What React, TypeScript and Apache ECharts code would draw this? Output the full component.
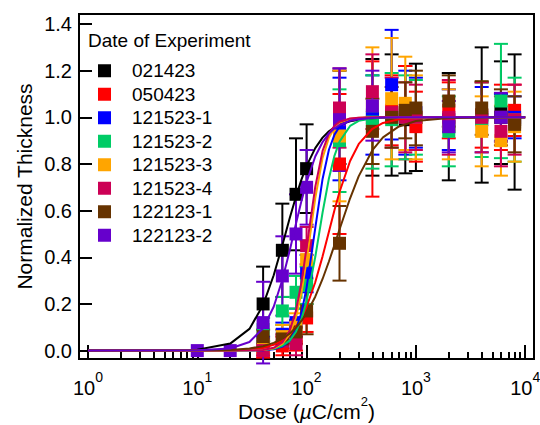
import React, { useEffect, useRef } from 'react';
import * as echarts from 'echarts';

const FONT = '"Liberation Sans", Arial, Helvetica, sans-serif';

// ---- names / ticks ----
const experimentNames = ['021423', '050423', '121523-1', '121523-2', '121523-3', '121523-4', '122123-1', '122123-2'];
const xMajorTicks = [1, 10, 100, 1000, 10000];
const xMinorTicks = [2, 3, 4, 5, 6, 7, 8, 9, 20, 30, 40, 50, 60, 70, 80, 90, 200, 300, 400, 500, 600, 700, 800, 900, 2000, 3000, 4000, 5000, 6000, 7000, 8000, 9000];
const yTicks = [0, 0.2, 0.4, 0.6, 0.8, 1.0, 1.2, 1.4];

// ---- measured points (dose, normalized thickness, error) ----
const dose021423 = [40, 60, 80, 100, 200, 400, 600, 800, 1000, 2000, 4000, 6000, 8000];
const thick021423 = [0.20, 0.43, 0.67, 0.78, 1.00, 1.00, 1.01, 0.99, 1.00, 0.96, 1.01, 1.02, 0.98];
const err021423 = [0.16, 0.20, 0.24, 0.19, 0.20, 0.25, 0.26, 0.23, 0.23, 0.23, 0.29, 0.22, 0.29];

const dose050423 = [40, 60, 80, 100, 200, 400, 600, 800, 1000, 2000, 4000, 6000, 8000];
const thick050423 = [0.00, 0.02, 0.05, 0.14, 0.80, 0.95, 1.03, 1.02, 0.96, 1.03, 1.01, 1.00, 1.03];
const err050423 = [0.03, 0.04, 0.05, 0.06, 0.30, 0.29, 0.15, 0.20, 0.15, 0.12, 0.14, 0.14, 0.11];

const dose121523_1 = [40, 60, 80, 100, 200, 400, 600, 800, 1000, 2000, 4000, 6000, 8000];
const thick121523_1 = [0.03, 0.07, 0.12, 0.33, 0.95, 1.01, 1.14, 1.02, 1.02, 0.99, 0.99, 1.00, 1.00];
const err121523_1 = [0.03, 0.05, 0.06, 0.08, 0.22, 0.17, 0.235, 0.18, 0.15, 0.13, 0.14, 0.10, 0.09];

const dose121523_2 = [40, 60, 80, 100, 200, 400, 600, 800, 1000, 2000, 4000, 6000, 8000];
const thick121523_2 = [0.09, 0.17, 0.25, 0.28, 0.90, 0.98, 0.99, 1.00, 1.00, 0.94, 0.99, 1.07, 0.99];
const err121523_2 = [0.05, 0.06, 0.07, 0.08, 0.22, 0.20, 0.20, 0.18, 0.16, 0.15, 0.16, 0.245, 0.18];

const dose121523_3 = [40, 60, 80, 100, 200, 400, 600, 800, 1000, 2000, 4000, 6000, 8000];
const thick121523_3 = [0.02, 0.06, 0.10, 0.39, 0.92, 1.05, 1.08, 1.06, 1.00, 0.97, 0.94, 0.90, 0.96];
const err121523_3 = [0.03, 0.05, 0.06, 0.08, 0.28, 0.25, 0.26, 0.20, 0.18, 0.15, 0.15, 0.15, 0.15];

const dose121523_4 = [40, 60, 80, 100, 200, 400, 600, 800, 1000, 2000, 4000, 6000, 8000];
const thick121523_4 = [0.00, 0.04, 0.03, 0.45, 1.04, 1.11, 1.02, 1.00, 1.00, 1.00, 1.00, 0.94, 0.99];
const err121523_4 = [0.02, 0.03, 0.05, 0.08, 0.17, 0.16, 0.15, 0.15, 0.14, 0.16, 0.15, 0.15, 0.15];

const dose122123_1 = [40, 60, 80, 100, 200, 400, 600, 800, 1000, 2000, 4000, 6000, 8000];
const thick122123_1 = [0.06, 0.05, 0.08, 0.17, 0.46, 0.94, 1.00, 1.03, 1.04, 1.07, 1.04, 1.00, 0.97];
const err122123_1 = [0.03, 0.04, 0.05, 0.10, 0.16, 0.14, 0.13, 0.12, 0.16, 0.11, 0.115, 0.12, 0.12];

const dose122123_2 = [10, 20, 40, 60, 80, 100, 200, 400, 2000, 6000];
const thick122123_2 = [0.00, 0.00, 0.12, 0.32, 0.50, 0.70, 0.99, 1.05, 0.96, 1.00];
const err122123_2 = [0, 0, 0.175, 0.17, 0.17, 0.16, 0.22, 0.15, 0.11, 0.105];

// ---- fitted curves, read at these doses ----
const fitDose = [1, 10, 20, 30, 40, 50, 60, 70, 80, 90, 100, 120, 140, 160, 180, 200, 250, 300, 400, 500, 700, 1000, 2000, 5000, 10000];
const fit021423 = [0, 0.004, 0.030, 0.093, 0.196, 0.323, 0.452, 0.567, 0.661, 0.735, 0.792, 0.868, 0.913, 0.940, 0.957, 0.968, 0.983, 0.990, 0.996, 0.998, 0.999, 1, 1, 1, 1];
const fit050423 = [0, 0, 0.001, 0.005, 0.012, 0.025, 0.043, 0.069, 0.102, 0.142, 0.188, 0.293, 0.404, 0.510, 0.603, 0.680, 0.813, 0.886, 0.951, 0.976, 0.992, 0.997, 1, 1, 1];
const fit121523_1 = [0, 0, 0, 0, 0.002, 0.006, 0.017, 0.042, 0.089, 0.164, 0.270, 0.525, 0.736, 0.861, 0.926, 0.960, 0.989, 0.996, 1, 1, 1, 1, 1, 1, 1];
const fit121523_2 = [0, 0, 0, 0.001, 0.003, 0.008, 0.021, 0.043, 0.081, 0.137, 0.212, 0.401, 0.592, 0.738, 0.836, 0.896, 0.963, 0.985, 0.996, 0.999, 1, 1, 1, 1, 1];
const fit121523_3 = [0, 0, 0, 0.001, 0.003, 0.010, 0.029, 0.069, 0.142, 0.251, 0.387, 0.653, 0.826, 0.913, 0.955, 0.976, 0.994, 0.998, 1, 1, 1, 1, 1, 1, 1];
const fit121523_4 = [0, 0, 0, 0.001, 0.003, 0.012, 0.035, 0.085, 0.172, 0.296, 0.442, 0.702, 0.856, 0.930, 0.964, 0.981, 0.995, 0.998, 1, 1, 1, 1, 1, 1, 1];
const fit122123_1 = [0, 0.001, 0.003, 0.009, 0.019, 0.033, 0.051, 0.073, 0.098, 0.128, 0.160, 0.231, 0.307, 0.382, 0.453, 0.519, 0.653, 0.748, 0.859, 0.914, 0.961, 0.984, 0.997, 1, 1];
const fit122123_2 = [0, 0.001, 0.009, 0.037, 0.096, 0.188, 0.304, 0.428, 0.545, 0.644, 0.723, 0.832, 0.894, 0.931, 0.953, 0.967, 0.985, 0.992, 0.997, 0.999, 1, 1, 1, 1, 1];

const experimentColors = ['#000000', '#ff0000', '#0000ff', '#00cc66', '#ffa500', '#cc0055', '#663300', '#6600cc'];

const experiments = [
  { doses: dose021423, values: thick021423, errors: err021423, fit: fit021423 },
  { doses: dose050423, values: thick050423, errors: err050423, fit: fit050423 },
  { doses: dose121523_1, values: thick121523_1, errors: err121523_1, fit: fit121523_1 },
  { doses: dose121523_2, values: thick121523_2, errors: err121523_2, fit: fit121523_2 },
  { doses: dose121523_3, values: thick121523_3, errors: err121523_3, fit: fit121523_3 },
  { doses: dose121523_4, values: thick121523_4, errors: err121523_4, fit: fit121523_4 },
  { doses: dose122123_1, values: thick122123_1, errors: err122123_1, fit: fit122123_1 },
  { doses: dose122123_2, values: thick122123_2, errors: err122123_2, fit: fit122123_2 },
];

function buildOption(): any {
  const series: any[] = [];
  experiments.forEach((ex, k) => {
    const name = experimentNames[k];
    const color = experimentColors[k];
    const errData: number[][] = [];
    ex.doses.forEach((d, i) => {
      if (ex.errors[i] > 0) errData.push([d, ex.values[i] - ex.errors[i], ex.values[i] + ex.errors[i]]);
    });
    series.push({
      type: 'custom',
      name: name + ' error',
      xAxisIndex: 0,
      yAxisIndex: 0,
      silent: true,
      encode: { x: 0, y: [1, 2] },
      data: errData,
      renderItem: (params: any, api: any) => {
        const x = api.value(0);
        const lo = api.coord([x, api.value(1)]);
        const hi = api.coord([x, api.value(2)]);
        const hw = 7;
        const style = { stroke: color, lineWidth: 2, fill: 'none' };
        return {
          type: 'group',
          children: [
            { type: 'line', shape: { x1: lo[0], y1: lo[1], x2: hi[0], y2: hi[1] }, style },
            { type: 'line', shape: { x1: lo[0] - hw, y1: lo[1], x2: lo[0] + hw, y2: lo[1] }, style },
            { type: 'line', shape: { x1: hi[0] - hw, y1: hi[1], x2: hi[0] + hw, y2: hi[1] }, style },
          ],
        };
      },
    });
    series.push({
      type: 'scatter',
      name,
      xAxisIndex: 0,
      yAxisIndex: 0,
      symbol: 'rect',
      symbolSize: 13,
      itemStyle: { color, opacity: 1 },
      data: ex.doses.map((d, i) => [d, ex.values[i]]),
    });
  });
  experiments.forEach((ex, k) => {
    const color = experimentColors[k];
    series.push({
      type: 'line',
      name: experimentNames[k] + ' fit',
      xAxisIndex: 0,
      yAxisIndex: 0,
      symbol: 'none',
      silent: true,
      lineStyle: { color, width: 2 },
      itemStyle: { color },
      data: fitDose.map((d, i) => [d, ex.fit[i]]),
    });
  });

  const tickLine = { color: '#000', width: 2 };

  return {
    animation: false,
    backgroundColor: '#ffffff',
    textStyle: { fontFamily: FONT },
    title: {
      text: 'Date of Experiment',
      left: 88,
      top: 31,
      padding: 0,
      textStyle: { fontFamily: FONT, fontSize: 19, fontWeight: 'normal', color: '#000' },
    },
    legend: {
      orient: 'vertical',
      left: 98,
      top: 59,
      padding: 0,
      itemGap: 0,
      itemWidth: 13,
      itemHeight: 13,
      icon: 'rect',
      selectedMode: false,
      data: experimentNames,
      textStyle: { fontFamily: FONT, fontSize: 19, color: '#000', lineHeight: 23.5, padding: [0, 0, 0, 16] },
    },
    grid: {
      left: 79, right: 6, top: 14, bottom: 66,
      show: true, borderColor: '#000', borderWidth: 2,
      containLabel: false,
      outerBoundsMode: 'none',
    },
    xAxis: [
      {
        type: 'log',
        logBase: 10,
        min: 0.827,
        max: 12040,
        position: 'bottom',
        axisLine: { show: true, onZero: false, lineStyle: tickLine },
        axisTick: { show: true, inside: true, length: 14, lineStyle: tickLine, customValues: xMajorTicks },
        minorTick: { show: false },
        splitLine: { show: false },
        axisLabel: {
          customValues: xMajorTicks,
          margin: 11,
          color: '#000',
          formatter: (v: number) => '{b|10}{s|' + Math.round(Math.log10(v)) + '}',
          rich: {
            b: { fontFamily: FONT, fontSize: 20, color: '#000', verticalAlign: 'bottom' },
            s: { fontFamily: FONT, fontSize: 14, color: '#000', verticalAlign: 'bottom', padding: [0, 0, 14, 0] },
          },
        },
        name: '{t|Dose (}{i|µ}{t|C/cm}{s|2}{t|)}',
        nameLocation: 'middle',
        nameGap: 36,
        nameMoveOverlap: false,
        nameTextStyle: {
          rich: {
            t: { fontFamily: FONT, fontSize: 21, color: '#000', verticalAlign: 'bottom' },
            i: { fontFamily: FONT, fontSize: 21, color: '#000', fontStyle: 'italic', verticalAlign: 'bottom' },
            s: { fontFamily: FONT, fontSize: 13, color: '#000', verticalAlign: 'bottom', padding: [0, 0, 14, 0] },
          },
        },
      },
      {
        type: 'log',
        logBase: 10,
        min: 0.827,
        max: 12040,
        position: 'bottom',
        axisLine: { show: false, onZero: false },
        axisTick: { show: true, inside: true, length: 7, lineStyle: tickLine, customValues: xMinorTicks },
        axisLabel: { show: false },
        splitLine: { show: false },
      },
    ],
    yAxis: {
      type: 'value',
      min: -0.036,
      max: 1.443,
      axisLine: { show: true, onZero: false, lineStyle: tickLine },
      axisTick: { show: true, inside: true, length: 13, lineStyle: tickLine, customValues: yTicks },
      splitLine: { show: false },
      axisLabel: {
        customValues: yTicks,
        margin: 7,
        color: '#000',
        fontFamily: FONT,
        fontSize: 20,
        formatter: (v: number) => v.toFixed(1),
      },
      name: 'Normalized Thickness',
      nameLocation: 'middle',
      nameGap: 44,
      nameMoveOverlap: false,
      nameTextStyle: { fontFamily: FONT, fontSize: 21, color: '#000' },
    },
    series,
  };
}

export default function App() {
  const ref = useRef<HTMLDivElement | null>(null);
  useEffect(() => {
    if (!ref.current) return;
    const chart = echarts.init(ref.current, undefined, { renderer: 'svg' });
    chart.setOption(buildOption());
    return () => chart.dispose();
  }, []);
  return (
    <div
      ref={ref}
      style={{ position: 'absolute', left: 0, top: 0, width: 540, height: 425, background: '#fff' }}
    />
  );
}
